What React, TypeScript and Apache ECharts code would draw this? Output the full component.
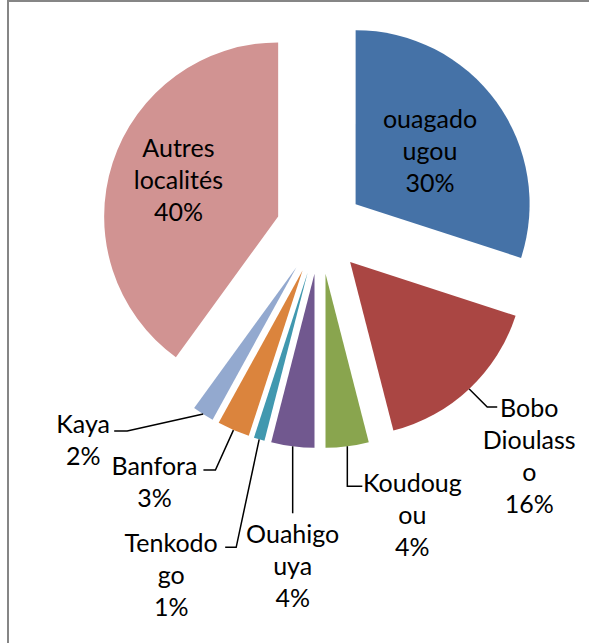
import React, { useEffect, useRef } from "react";
import * as echarts from "echarts";

const categories = [
  "ouagadougou",
  "Bobo Dioulasso",
  "Koudougou",
  "Ouahigouya",
  "Tenkodogo",
  "Banfora",
  "Kaya",
  "Autres localités",
];
const labelNames = [
  "ouagado\nugou",
  "Bobo\nDioulass\no",
  "Koudoug\nou",
  "Ouahigo\nuya",
  "Tenkodo\ngo",
  "Banfora",
  "Kaya",
  "Autres\nlocalités",
];
const values = [30, 16, 4, 4, 1, 3, 2, 40];
const colors = [
  "#4572A7",
  "#AA4643",
  "#89A54E",
  "#71588F",
  "#4198AF",
  "#DB843D",
  "#93A9CF",
  "#D19392",
];

const CX = 320;
const CY = 230;
const R = 174;
const OFF = 44;
const FONT = "Lato, 'Noto Sans', sans-serif";

type Placement =
  | { inside: true; dx: number; dy: number }
  | { inside?: false; lx: number; ly: number; line: number[][] };

// label placement relative to the slice's outer arc point at its mid-angle
const placements: Placement[] = [
  { inside: true, dx: 4, dy: -3 },
  { lx: 60, ly: 2, line: [[18, 18], [28, 18]] },
  { lx: 65, ly: 20, line: [[0, 40], [15, 40]] },
  { lx: 0, ly: 71, line: [[0, 67]] },
  { lx: -88, ly: 87, line: [[-23, 108], [-34, 108]] },
  { lx: -79, ly: 19, line: [[-18, 40], [-30, 40]] },
  { lx: -120, ly: -7, line: [[-76, 17], [-89, 17]] },
  { inside: true, dx: -17, dy: -11 },
];

function midDir(i: number) {
  const total = values.reduce((a, b) => a + b, 0);
  let cum = 0;
  for (let k = 0; k < i; k++) cum += values[k];
  const mid = ((cum + values[i] / 2) / total) * Math.PI * 2;
  return [Math.sin(mid), -Math.cos(mid)];
}

function buildLabelGraphics() {
  const out: any[] = [];
  categories.forEach((_, i) => {
    const pl = placements[i];
    const d = midDir(i);
    const text = labelNames[i] + "\n" + values[i] + "%";
    const baseStyle = {
      text,
      fill: "#000000",
      fontFamily: FONT,
      fontSize: 25,
      lineHeight: 32,
      align: "center",
    };
    if (pl.inside) {
      const rr = OFF + R / 2;
      out.push({
        type: "text",
        silent: true,
        x: CX + rr * d[0] + pl.dx,
        y: CY + rr * d[1] + pl.dy,
        style: { ...baseStyle, verticalAlign: "middle" },
        z: 10,
      });
    } else {
      const p0 = [CX + (OFF + R) * d[0], CY + (OFF + R) * d[1]];
      const pts = [p0].concat(pl.line.map((q) => [p0[0] + q[0], p0[1] + q[1]]));
      out.push({
        type: "polyline",
        silent: true,
        shape: { points: pts },
        style: { stroke: "#000000", lineWidth: 1.5, fill: "none" },
        z: 10,
      });
      out.push({
        type: "text",
        silent: true,
        x: p0[0] + pl.lx,
        y: p0[1] + pl.ly,
        style: { ...baseStyle, verticalAlign: "top" },
        z: 10,
      });
    }
  });
  return out;
}

export default function App() {
  const ref = useRef<HTMLDivElement>(null);
  useEffect(() => {
    if (!ref.current) return;
    const chart = echarts.init(ref.current, undefined, { renderer: "svg" });
    chart.setOption({
      animation: false,
      backgroundColor: "#ffffff",
      graphic: [
        {
          type: "rect",
          silent: true,
          shape: { x: 8, y: 1, width: 700, height: 700 },
          style: { fill: "none", stroke: "#868686", lineWidth: 2 },
        },
        ...buildLabelGraphics(),
      ],
      series: [
        {
          type: "pie",
          center: [CX, CY],
          radius: R,
          startAngle: 90,
          clockwise: true,
          selectedMode: "multiple",
          selectedOffset: OFF,
          emphasis: { disabled: true },
          itemStyle: { borderWidth: 0 },
          label: { show: false },
          labelLine: { show: false },
          data: categories.map((name, i) => ({
            name,
            value: values[i],
            selected: true,
            itemStyle: { color: colors[i] },
          })),
        },
      ],
    });
    return () => chart.dispose();
  }, []);
  return (
    <div
      ref={ref}
      style={{ position: "fixed", left: 0, top: 0, width: 589, height: 643 }}
    />
  );
}
